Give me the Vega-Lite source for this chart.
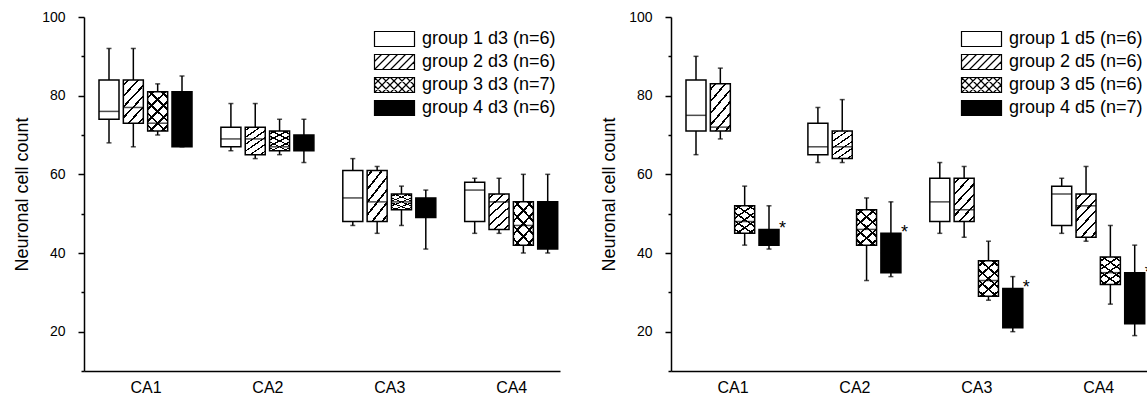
{
  "$schema": "https://vega.github.io/schema/vega-lite/v6.json",
  "padding": {"left": 13, "top": 10, "right": 0, "bottom": 0},
  "spacing": 40,
  "config": {
    "font": "Liberation Sans",
    "view": {"stroke": null},
    "axis": {"domainColor": "#000", "tickColor": "#000", "labelColor": "#000", "titleColor": "#000", "grid": false, "domainWidth": 1.5, "tickWidth": 1.5},
    "axisX": {"labelFontSize": 16, "ticks": false, "tickSize": 0, "labelPadding": 8, "labelAngle": 0, "title": null},
    "axisY": {"labelFontSize": 14, "titleFontSize": 18, "titleFontWeight": "normal", "labelPadding": 13, "titlePadding": 10, "tickSize": 6},
    "legend": {"symbolSize": 225, "symbolStrokeColor": "#000", "symbolStrokeWidth": 1.2, "labelFontSize": 18, "labelColor": "#000", "labelOffset": 18.5, "rowPadding": 3, "labelLimit": 400, "padding": 0, "symbolType": "M-2.667,-1H2.667V1H-2.667Z"}
  },
  "resolve": {"scale": {"fill": "independent"}, "legend": {"fill": "independent"}},
  "datasets": {
    "d3": [
      {"region": "CA1", "group": 1, "label": "group 1 d3 (n=6)", "lo": 68, "q1": 74, "med": 76, "q3": 84, "hi": 92},
      {"region": "CA1", "group": 2, "label": "group 2 d3 (n=6)", "lo": 67, "q1": 73, "med": 77, "q3": 84, "hi": 92},
      {"region": "CA1", "group": 3, "label": "group 3 d3 (n=7)", "lo": 70, "q1": 71, "med": 73, "q3": 81, "hi": 83},
      {"region": "CA1", "group": 4, "label": "group 4 d3 (n=6)", "lo": 67, "q1": 67, "med": 74, "q3": 81, "hi": 85},
      {"region": "CA2", "group": 1, "label": "group 1 d3 (n=6)", "lo": 66, "q1": 67, "med": 69, "q3": 72, "hi": 78},
      {"region": "CA2", "group": 2, "label": "group 2 d3 (n=6)", "lo": 64, "q1": 65, "med": 69, "q3": 72, "hi": 78},
      {"region": "CA2", "group": 3, "label": "group 3 d3 (n=7)", "lo": 65, "q1": 66, "med": 67, "q3": 71, "hi": 74},
      {"region": "CA2", "group": 4, "label": "group 4 d3 (n=6)", "lo": 63, "q1": 66, "med": 68, "q3": 70, "hi": 74},
      {"region": "CA3", "group": 1, "label": "group 1 d3 (n=6)", "lo": 47, "q1": 48, "med": 54, "q3": 61, "hi": 64},
      {"region": "CA3", "group": 2, "label": "group 2 d3 (n=6)", "lo": 45, "q1": 48, "med": 53, "q3": 61, "hi": 62},
      {"region": "CA3", "group": 3, "label": "group 3 d3 (n=7)", "lo": 47, "q1": 51, "med": 53, "q3": 55, "hi": 57},
      {"region": "CA3", "group": 4, "label": "group 4 d3 (n=6)", "lo": 41, "q1": 49, "med": 52, "q3": 54, "hi": 56},
      {"region": "CA4", "group": 1, "label": "group 1 d3 (n=6)", "lo": 45, "q1": 48, "med": 56, "q3": 58, "hi": 59},
      {"region": "CA4", "group": 2, "label": "group 2 d3 (n=6)", "lo": 45, "q1": 46, "med": 53, "q3": 55, "hi": 59},
      {"region": "CA4", "group": 3, "label": "group 3 d3 (n=7)", "lo": 40, "q1": 42, "med": 47, "q3": 53, "hi": 60},
      {"region": "CA4", "group": 4, "label": "group 4 d3 (n=6)", "lo": 40, "q1": 41, "med": 47, "q3": 53, "hi": 60}
    ],
    "d5": [
      {"region": "CA1", "group": 1, "label": "group 1 d5 (n=6)", "lo": 65, "q1": 71, "med": 75, "q3": 84, "hi": 90},
      {"region": "CA1", "group": 2, "label": "group 2 d5 (n=6)", "lo": 69, "q1": 71, "med": 72, "q3": 83, "hi": 87},
      {"region": "CA1", "group": 3, "label": "group 3 d5 (n=6)", "lo": 42, "q1": 45, "med": 48, "q3": 52, "hi": 57},
      {"region": "CA1", "group": 4, "label": "group 4 d5 (n=7)", "lo": 41, "q1": 42, "med": 44, "q3": 46, "hi": 52, "sig": "*"},
      {"region": "CA2", "group": 1, "label": "group 1 d5 (n=6)", "lo": 63, "q1": 65, "med": 67, "q3": 73, "hi": 77},
      {"region": "CA2", "group": 2, "label": "group 2 d5 (n=6)", "lo": 63, "q1": 64, "med": 67, "q3": 71, "hi": 79},
      {"region": "CA2", "group": 3, "label": "group 3 d5 (n=6)", "lo": 33, "q1": 42, "med": 46, "q3": 51, "hi": 54},
      {"region": "CA2", "group": 4, "label": "group 4 d5 (n=7)", "lo": 34, "q1": 35, "med": 40, "q3": 45, "hi": 53, "sig": "*"},
      {"region": "CA3", "group": 1, "label": "group 1 d5 (n=6)", "lo": 45, "q1": 48, "med": 53, "q3": 59, "hi": 63},
      {"region": "CA3", "group": 2, "label": "group 2 d5 (n=6)", "lo": 44, "q1": 48, "med": 51, "q3": 59, "hi": 62},
      {"region": "CA3", "group": 3, "label": "group 3 d5 (n=6)", "lo": 28, "q1": 29, "med": 33, "q3": 38, "hi": 43},
      {"region": "CA3", "group": 4, "label": "group 4 d5 (n=7)", "lo": 20, "q1": 21, "med": 26, "q3": 31, "hi": 34, "sig": "*"},
      {"region": "CA4", "group": 1, "label": "group 1 d5 (n=6)", "lo": 45, "q1": 47, "med": 55, "q3": 57, "hi": 59},
      {"region": "CA4", "group": 2, "label": "group 2 d5 (n=6)", "lo": 43, "q1": 44, "med": 52, "q3": 55, "hi": 62},
      {"region": "CA4", "group": 3, "label": "group 3 d5 (n=6)", "lo": 27, "q1": 32, "med": 35, "q3": 39, "hi": 47},
      {"region": "CA4", "group": 4, "label": "group 4 d5 (n=7)", "lo": 19, "q1": 22, "med": 28, "q3": 35, "hi": 42, "sig": "*"}
    ]
  },
  "hconcat": [
    {
      "width": 476, "height": 354,
      "data": {"name": "d3"},
      "resolve": {"axis": {"y": "independent"}},
      "encoding": {
        "x": {"field": "region", "type": "nominal", "scale": {"type": "point", "padding": 0.4524, "align": 0.5576}, "axis": {"title": null}},
        "xOffset": {"field": "group", "type": "nominal", "scale": {"type": "point", "range": [-36.5, 36.5], "padding": 0}}
      },
      "layer": [
        {"mark": {"type": "rule", "color": "#000", "strokeWidth": 1.5},
         "encoding": {"y": {"field": "lo", "type": "quantitative", "scale": {"domain": [10, 100], "nice": false, "zero": false},
           "axis": {"title": "Neuronal cell count", "values": [20, 40, 60, 80, 100]}},
           "y2": {"field": "hi"}}},
        {"mark": {"type": "tick", "color": "#000", "size": 5, "thickness": 1.5}, "encoding": {"y": {"field": "lo", "type": "quantitative", "axis": {"orient": "left", "values": [10, 30, 50, 70, 90], "tickSize": 3, "labels": false, "domain": false, "title": null}}}},
        {"mark": {"type": "tick", "color": "#000", "size": 5, "thickness": 1.5}, "encoding": {"y": {"field": "hi", "type": "quantitative", "axis": null}}},
        {"mark": {"type": "bar", "stroke": null},
         "encoding": {"y": {"field": "q1", "type": "quantitative", "axis": null}, "y2": {"field": "q3"},
           "size": {"field": "region", "type": "nominal", "scale": {"domain": ["CA1", "CA2", "CA3", "CA4"], "range": [20, 20, 15, 15]}, "legend": null},
           "fill": {"field": "label", "type": "nominal", "scale": {"range": ["#fff", "#fff", "#fff", "#000"]},
             "legend": {"title": null, "orient": "none", "legendX": 301.5, "legendY": 13,
               "encode": {"symbols": {"update": {"shape": [
                 {"test": "datum.index === 1", "value": "M-2.667,-1H2.667V1H-2.667ZM-2.667,-0.067L-1.733,-1M-2.667,1L-0.667,-1M-1.6,1L0.4,-1M-0.533,1L1.467,-1M0.533,1L2.533,-1M1.6,1L2.667,-0.067"},
                 {"test": "datum.index === 2", "value": "M-2.667,-1H2.667V1H-2.667ZM-2.667,-0.067L-1.733,-1M-2.667,1L-0.667,-1M-1.6,1L0.4,-1M-0.533,1L1.467,-1M0.533,1L2.533,-1M1.6,1L2.667,-0.067M-2.667,0.067L-1.733,1M-2.667,-1L-0.667,1M-1.6,-1L0.4,1M-0.533,-1L1.467,1M0.533,-1L2.533,1M1.6,-1L2.667,0.067"},
                 {"value": "M-2.667,-1H2.667V1H-2.667Z"}]}}}}}}},
        {"transform": [{"filter": "datum.group === 2"}],
         "mark": {"type": "bar", "stroke": null, "fill": {"gradient": "linear", "x1": 0, "y1": 0, "x2": 0.6, "y2": 1.2, "stops": [
           {"offset": 0, "color": "rgba(0,0,0,0)"}, {"offset": 0.065, "color": "rgba(0,0,0,0)"}, {"offset": 0.065, "color": "#000"}, {"offset": 0.101, "color": "#000"}, {"offset": 0.101, "color": "rgba(0,0,0,0)"},
           {"offset": 0.232, "color": "rgba(0,0,0,0)"}, {"offset": 0.232, "color": "#000"}, {"offset": 0.268, "color": "#000"}, {"offset": 0.268, "color": "rgba(0,0,0,0)"},
           {"offset": 0.399, "color": "rgba(0,0,0,0)"}, {"offset": 0.399, "color": "#000"}, {"offset": 0.435, "color": "#000"}, {"offset": 0.435, "color": "rgba(0,0,0,0)"},
           {"offset": 0.565, "color": "rgba(0,0,0,0)"}, {"offset": 0.565, "color": "#000"}, {"offset": 0.601, "color": "#000"}, {"offset": 0.601, "color": "rgba(0,0,0,0)"},
           {"offset": 0.732, "color": "rgba(0,0,0,0)"}, {"offset": 0.732, "color": "#000"}, {"offset": 0.768, "color": "#000"}, {"offset": 0.768, "color": "rgba(0,0,0,0)"},
           {"offset": 0.899, "color": "rgba(0,0,0,0)"}, {"offset": 0.899, "color": "#000"}, {"offset": 0.935, "color": "#000"}, {"offset": 0.935, "color": "rgba(0,0,0,0)"},
           {"offset": 1, "color": "rgba(0,0,0,0)"}]}},
         "encoding": {"y": {"field": "q1", "type": "quantitative", "axis": null}, "y2": {"field": "q3"}, "size": {"field": "region", "type": "nominal"}}},
        {"transform": [{"filter": "datum.group === 3"}],
         "mark": {"type": "bar", "stroke": null, "fill": {"gradient": "linear", "x1": 0, "y1": 0, "x2": 0.6, "y2": 1.2, "stops": [
           {"offset": 0, "color": "rgba(0,0,0,0)"}, {"offset": 0.078, "color": "rgba(0,0,0,0)"}, {"offset": 0.078, "color": "#000"}, {"offset": 0.122, "color": "#000"}, {"offset": 0.122, "color": "rgba(0,0,0,0)"},
           {"offset": 0.278, "color": "rgba(0,0,0,0)"}, {"offset": 0.278, "color": "#000"}, {"offset": 0.322, "color": "#000"}, {"offset": 0.322, "color": "rgba(0,0,0,0)"},
           {"offset": 0.478, "color": "rgba(0,0,0,0)"}, {"offset": 0.478, "color": "#000"}, {"offset": 0.522, "color": "#000"}, {"offset": 0.522, "color": "rgba(0,0,0,0)"},
           {"offset": 0.678, "color": "rgba(0,0,0,0)"}, {"offset": 0.678, "color": "#000"}, {"offset": 0.722, "color": "#000"}, {"offset": 0.722, "color": "rgba(0,0,0,0)"},
           {"offset": 0.878, "color": "rgba(0,0,0,0)"}, {"offset": 0.878, "color": "#000"}, {"offset": 0.922, "color": "#000"}, {"offset": 0.922, "color": "rgba(0,0,0,0)"},
           {"offset": 1, "color": "rgba(0,0,0,0)"}]}},
         "encoding": {"y": {"field": "q1", "type": "quantitative", "axis": null}, "y2": {"field": "q3"}, "size": {"field": "region", "type": "nominal"}}},
        {"transform": [{"filter": "datum.group === 3"}],
         "mark": {"type": "bar", "stroke": null, "fill": {"gradient": "linear", "x1": 1, "y1": 0, "x2": 0.4, "y2": 1.2, "stops": [
           {"offset": 0, "color": "rgba(0,0,0,0)"}, {"offset": 0.078, "color": "rgba(0,0,0,0)"}, {"offset": 0.078, "color": "#000"}, {"offset": 0.122, "color": "#000"}, {"offset": 0.122, "color": "rgba(0,0,0,0)"},
           {"offset": 0.278, "color": "rgba(0,0,0,0)"}, {"offset": 0.278, "color": "#000"}, {"offset": 0.322, "color": "#000"}, {"offset": 0.322, "color": "rgba(0,0,0,0)"},
           {"offset": 0.478, "color": "rgba(0,0,0,0)"}, {"offset": 0.478, "color": "#000"}, {"offset": 0.522, "color": "#000"}, {"offset": 0.522, "color": "rgba(0,0,0,0)"},
           {"offset": 0.678, "color": "rgba(0,0,0,0)"}, {"offset": 0.678, "color": "#000"}, {"offset": 0.722, "color": "#000"}, {"offset": 0.722, "color": "rgba(0,0,0,0)"},
           {"offset": 0.878, "color": "rgba(0,0,0,0)"}, {"offset": 0.878, "color": "#000"}, {"offset": 0.922, "color": "#000"}, {"offset": 0.922, "color": "rgba(0,0,0,0)"},
           {"offset": 1, "color": "rgba(0,0,0,0)"}]}},
         "encoding": {"y": {"field": "q1", "type": "quantitative", "axis": null}, "y2": {"field": "q3"}, "size": {"field": "region", "type": "nominal"}}},
        {"mark": {"type": "tick", "color": "#000", "thickness": 1.5}, "encoding": {"y": {"field": "med", "type": "quantitative", "axis": null}, "size": {"field": "region", "type": "nominal"}}},
        {"mark": {"type": "bar", "filled": false, "color": "#000", "strokeWidth": 1.5},
         "encoding": {"y": {"field": "q1", "type": "quantitative", "axis": null}, "y2": {"field": "q3"}, "size": {"field": "region", "type": "nominal"}}},
        {"transform": [{"filter": "datum.sig === '*'"}],
         "mark": {"type": "text", "align": "left", "baseline": "alphabetic", "dx": 10, "dy": 5, "fontSize": 18, "color": "#000"},
         "encoding": {"y": {"field": "q3", "type": "quantitative", "axis": null}, "text": {"field": "sig"}}}
      ]
    },
    {
      "width": 476, "height": 354,
      "data": {"name": "d5"},
      "resolve": {"axis": {"y": "independent"}},
      "encoding": {
        "x": {"field": "region", "type": "nominal", "scale": {"type": "point", "padding": 0.4524, "align": 0.5576}, "axis": {"title": null}},
        "xOffset": {"field": "group", "type": "nominal", "scale": {"type": "point", "range": [-36.5, 36.5], "padding": 0}}
      },
      "layer": [
        {"mark": {"type": "rule", "color": "#000", "strokeWidth": 1.5},
         "encoding": {"y": {"field": "lo", "type": "quantitative", "scale": {"domain": [10, 100], "nice": false, "zero": false},
           "axis": {"title": "Neuronal cell count", "values": [20, 40, 60, 80, 100]}},
           "y2": {"field": "hi"}}},
        {"mark": {"type": "tick", "color": "#000", "size": 5, "thickness": 1.5}, "encoding": {"y": {"field": "lo", "type": "quantitative", "axis": {"orient": "left", "values": [10, 30, 50, 70, 90], "tickSize": 3, "labels": false, "domain": false, "title": null}}}},
        {"mark": {"type": "tick", "color": "#000", "size": 5, "thickness": 1.5}, "encoding": {"y": {"field": "hi", "type": "quantitative", "axis": null}}},
        {"mark": {"type": "bar", "stroke": null},
         "encoding": {"y": {"field": "q1", "type": "quantitative", "axis": null}, "y2": {"field": "q3"},
           "size": {"field": "region", "type": "nominal", "scale": {"domain": ["CA1", "CA2", "CA3", "CA4"], "range": [20, 20, 15, 15]}, "legend": null},
           "fill": {"field": "label", "type": "nominal", "scale": {"range": ["#fff", "#fff", "#fff", "#000"]},
             "legend": {"title": null, "orient": "none", "legendX": 301.5, "legendY": 13,
               "encode": {"symbols": {"update": {"shape": [
                 {"test": "datum.index === 1", "value": "M-2.667,-1H2.667V1H-2.667ZM-2.667,-0.067L-1.733,-1M-2.667,1L-0.667,-1M-1.6,1L0.4,-1M-0.533,1L1.467,-1M0.533,1L2.533,-1M1.6,1L2.667,-0.067"},
                 {"test": "datum.index === 2", "value": "M-2.667,-1H2.667V1H-2.667ZM-2.667,-0.067L-1.733,-1M-2.667,1L-0.667,-1M-1.6,1L0.4,-1M-0.533,1L1.467,-1M0.533,1L2.533,-1M1.6,1L2.667,-0.067M-2.667,0.067L-1.733,1M-2.667,-1L-0.667,1M-1.6,-1L0.4,1M-0.533,-1L1.467,1M0.533,-1L2.533,1M1.6,-1L2.667,0.067"},
                 {"value": "M-2.667,-1H2.667V1H-2.667Z"}]}}}}}}},
        {"transform": [{"filter": "datum.group === 2"}],
         "mark": {"type": "bar", "stroke": null, "fill": {"gradient": "linear", "x1": 0, "y1": 0, "x2": 0.6, "y2": 1.2, "stops": [
           {"offset": 0, "color": "rgba(0,0,0,0)"}, {"offset": 0.065, "color": "rgba(0,0,0,0)"}, {"offset": 0.065, "color": "#000"}, {"offset": 0.101, "color": "#000"}, {"offset": 0.101, "color": "rgba(0,0,0,0)"},
           {"offset": 0.232, "color": "rgba(0,0,0,0)"}, {"offset": 0.232, "color": "#000"}, {"offset": 0.268, "color": "#000"}, {"offset": 0.268, "color": "rgba(0,0,0,0)"},
           {"offset": 0.399, "color": "rgba(0,0,0,0)"}, {"offset": 0.399, "color": "#000"}, {"offset": 0.435, "color": "#000"}, {"offset": 0.435, "color": "rgba(0,0,0,0)"},
           {"offset": 0.565, "color": "rgba(0,0,0,0)"}, {"offset": 0.565, "color": "#000"}, {"offset": 0.601, "color": "#000"}, {"offset": 0.601, "color": "rgba(0,0,0,0)"},
           {"offset": 0.732, "color": "rgba(0,0,0,0)"}, {"offset": 0.732, "color": "#000"}, {"offset": 0.768, "color": "#000"}, {"offset": 0.768, "color": "rgba(0,0,0,0)"},
           {"offset": 0.899, "color": "rgba(0,0,0,0)"}, {"offset": 0.899, "color": "#000"}, {"offset": 0.935, "color": "#000"}, {"offset": 0.935, "color": "rgba(0,0,0,0)"},
           {"offset": 1, "color": "rgba(0,0,0,0)"}]}},
         "encoding": {"y": {"field": "q1", "type": "quantitative", "axis": null}, "y2": {"field": "q3"}, "size": {"field": "region", "type": "nominal"}}},
        {"transform": [{"filter": "datum.group === 3"}],
         "mark": {"type": "bar", "stroke": null, "fill": {"gradient": "linear", "x1": 0, "y1": 0, "x2": 0.6, "y2": 1.2, "stops": [
           {"offset": 0, "color": "rgba(0,0,0,0)"}, {"offset": 0.078, "color": "rgba(0,0,0,0)"}, {"offset": 0.078, "color": "#000"}, {"offset": 0.122, "color": "#000"}, {"offset": 0.122, "color": "rgba(0,0,0,0)"},
           {"offset": 0.278, "color": "rgba(0,0,0,0)"}, {"offset": 0.278, "color": "#000"}, {"offset": 0.322, "color": "#000"}, {"offset": 0.322, "color": "rgba(0,0,0,0)"},
           {"offset": 0.478, "color": "rgba(0,0,0,0)"}, {"offset": 0.478, "color": "#000"}, {"offset": 0.522, "color": "#000"}, {"offset": 0.522, "color": "rgba(0,0,0,0)"},
           {"offset": 0.678, "color": "rgba(0,0,0,0)"}, {"offset": 0.678, "color": "#000"}, {"offset": 0.722, "color": "#000"}, {"offset": 0.722, "color": "rgba(0,0,0,0)"},
           {"offset": 0.878, "color": "rgba(0,0,0,0)"}, {"offset": 0.878, "color": "#000"}, {"offset": 0.922, "color": "#000"}, {"offset": 0.922, "color": "rgba(0,0,0,0)"},
           {"offset": 1, "color": "rgba(0,0,0,0)"}]}},
         "encoding": {"y": {"field": "q1", "type": "quantitative", "axis": null}, "y2": {"field": "q3"}, "size": {"field": "region", "type": "nominal"}}},
        {"transform": [{"filter": "datum.group === 3"}],
         "mark": {"type": "bar", "stroke": null, "fill": {"gradient": "linear", "x1": 1, "y1": 0, "x2": 0.4, "y2": 1.2, "stops": [
           {"offset": 0, "color": "rgba(0,0,0,0)"}, {"offset": 0.078, "color": "rgba(0,0,0,0)"}, {"offset": 0.078, "color": "#000"}, {"offset": 0.122, "color": "#000"}, {"offset": 0.122, "color": "rgba(0,0,0,0)"},
           {"offset": 0.278, "color": "rgba(0,0,0,0)"}, {"offset": 0.278, "color": "#000"}, {"offset": 0.322, "color": "#000"}, {"offset": 0.322, "color": "rgba(0,0,0,0)"},
           {"offset": 0.478, "color": "rgba(0,0,0,0)"}, {"offset": 0.478, "color": "#000"}, {"offset": 0.522, "color": "#000"}, {"offset": 0.522, "color": "rgba(0,0,0,0)"},
           {"offset": 0.678, "color": "rgba(0,0,0,0)"}, {"offset": 0.678, "color": "#000"}, {"offset": 0.722, "color": "#000"}, {"offset": 0.722, "color": "rgba(0,0,0,0)"},
           {"offset": 0.878, "color": "rgba(0,0,0,0)"}, {"offset": 0.878, "color": "#000"}, {"offset": 0.922, "color": "#000"}, {"offset": 0.922, "color": "rgba(0,0,0,0)"},
           {"offset": 1, "color": "rgba(0,0,0,0)"}]}},
         "encoding": {"y": {"field": "q1", "type": "quantitative", "axis": null}, "y2": {"field": "q3"}, "size": {"field": "region", "type": "nominal"}}},
        {"mark": {"type": "tick", "color": "#000", "thickness": 1.5}, "encoding": {"y": {"field": "med", "type": "quantitative", "axis": null}, "size": {"field": "region", "type": "nominal"}}},
        {"mark": {"type": "bar", "filled": false, "color": "#000", "strokeWidth": 1.5},
         "encoding": {"y": {"field": "q1", "type": "quantitative", "axis": null}, "y2": {"field": "q3"}, "size": {"field": "region", "type": "nominal"}}},
        {"transform": [{"filter": "datum.sig === '*'"}],
         "mark": {"type": "text", "align": "left", "baseline": "alphabetic", "dx": 10, "dy": 5, "fontSize": 18, "color": "#000"},
         "encoding": {"y": {"field": "q3", "type": "quantitative", "axis": null}, "text": {"field": "sig"}}}
      ]
    }
  ]
}
